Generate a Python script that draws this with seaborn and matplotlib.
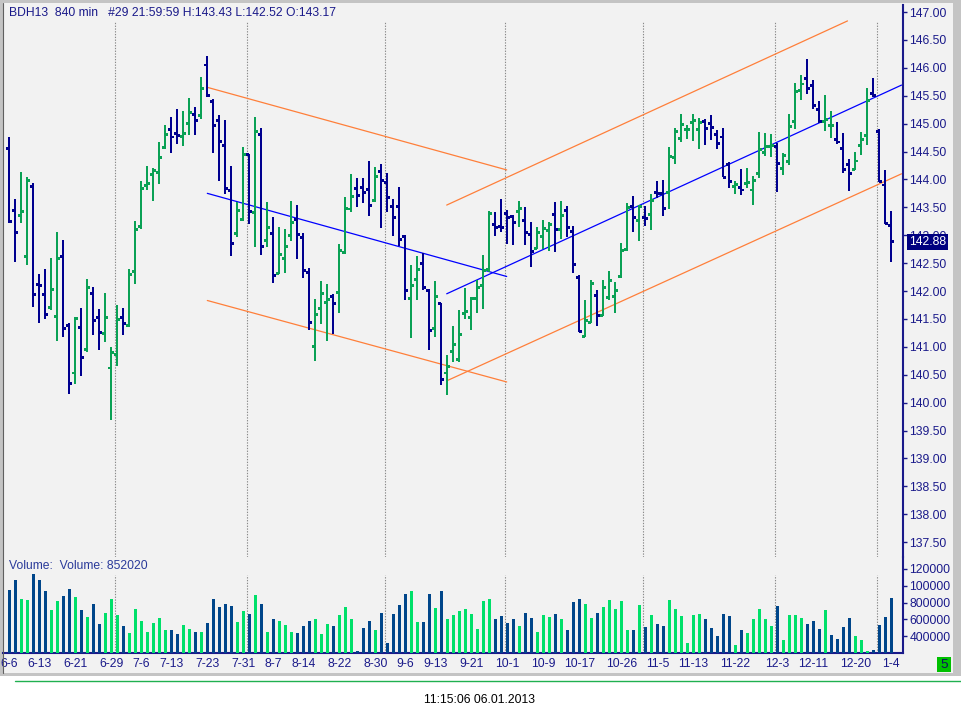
import numpy as np
import pandas as pd
import matplotlib
matplotlib.use("Agg")
import matplotlib.pyplot as plt
import matplotlib.transforms as mtransforms
from matplotlib.patches import Rectangle
from matplotlib.lines import Line2D
import seaborn as sns

# ---------------- data ----------------
highs = [144.76,143.65,144.13,144.04,143.94,142.31,142.40,142.60,143.06,142.91,
         141.43,141.53,141.70,142.22,142.07,141.68,141.97,140.99,141.75,141.70,
         142.40,143.25,143.97,144.24,144.20,144.67,144.98,145.12,145.26,145.23,
         145.45,145.30,145.84,146.21,145.44,145.16,145.06,144.24,143.60,144.58,
         144.45,145.12,144.92,143.60,143.33,143.15,143.11,143.61,143.54,143.04,
         142.41,141.86,142.18,142.12,141.94,142.84,143.69,144.10,144.03,144.03,
         144.33,144.22,144.28,144.12,143.65,143.87,143.00,142.47,142.63,142.68,
         142.04,142.18,141.79,140.85,141.37,141.66,142.05,141.90,142.20,142.64,
         143.43,143.42,143.65,143.45,143.37,143.61,143.51,143.23,143.15,143.27,
         143.24,143.60,143.61,143.52,143.16,142.28,141.83,142.19,142.01,142.20,
         142.36,142.16,142.86,143.57,143.70,143.55,143.52,143.73,143.97,143.99,
         144.58,144.93,145.17,144.97,145.17,145.10,145.08,145.15,144.88,144.92,
         144.32,143.97,144.19,144.21,144.06,144.85,144.84,144.81,144.66,144.47,
         145.17,145.73,145.87,146.16,145.79,145.41,145.51,145.23,145.02,144.84,
         144.36,144.49,144.85,145.63,145.82,144.91,144.17,143.43]
lows = [143.21,142.52,143.22,142.46,141.72,141.42,141.50,141.66,141.11,141.17,
        140.15,140.33,140.48,140.91,141.21,140.95,141.08,139.69,140.65,141.21,
        141.35,142.12,143.11,143.81,143.62,143.91,144.54,144.48,144.64,144.59,
        144.79,144.79,145.09,145.48,144.48,143.98,143.73,142.62,142.96,143.26,
        143.20,142.79,142.65,142.78,142.14,142.30,142.33,142.90,142.58,142.24,
        141.31,140.75,141.41,141.11,141.23,141.60,142.67,143.41,143.51,143.58,
        143.35,143.60,143.13,143.42,142.99,142.80,141.83,141.15,141.84,142.02,
        140.95,141.18,140.31,140.13,140.72,140.73,141.49,141.30,141.60,141.67,
        142.34,142.99,143.06,142.84,142.82,143.15,142.83,142.43,142.75,142.76,
        142.72,142.69,142.93,142.96,142.33,141.26,141.17,141.42,141.38,141.55,
        141.84,141.60,142.23,142.72,143.06,142.89,143.17,143.10,143.67,143.35,
        143.47,144.28,144.67,144.73,144.68,144.54,144.61,144.70,144.55,144.04,
        143.84,143.73,143.72,143.85,143.55,144.03,144.42,144.41,143.77,144.07,
        144.25,144.91,145.42,145.53,145.26,145.01,144.86,144.74,144.64,144.12,
        143.80,144.16,144.44,144.62,145.47,143.96,143.20,142.52]
opens = [144.56,143.45,143.35,142.62,143.88,142.12,141.94,141.71,141.55,142.61,
         141.38,140.53,141.35,140.95,141.96,141.53,141.24,140.62,140.87,141.53,
         141.38,142.35,143.16,143.89,144.09,144.13,144.58,144.90,144.83,144.77,
         145.01,145.17,145.15,146.05,145.40,145.06,144.61,143.80,143.03,143.28,
         144.45,143.41,144.81,142.91,143.03,142.32,142.59,143.00,143.28,142.96,
         142.34,141.01,141.69,141.80,141.90,141.98,142.69,143.47,143.84,143.86,
         143.82,143.63,144.15,143.95,143.52,143.52,142.98,141.87,142.21,142.50,
         142.01,141.33,141.78,140.53,140.92,140.77,141.60,141.52,141.87,142.10,
         142.39,143.19,143.16,143.39,143.34,143.43,143.27,143.02,142.77,142.98,
         143.09,143.37,143.10,143.45,143.07,142.25,141.19,141.44,141.92,141.56,
         141.89,141.90,142.26,142.75,143.52,143.27,143.32,143.37,143.77,143.75,
         143.77,144.40,144.74,144.90,145.02,144.90,145.03,145.01,144.81,144.76,
         144.27,143.88,143.85,143.93,143.81,144.10,144.49,144.59,144.59,144.19,
         144.32,145.03,145.59,145.80,145.69,145.25,145.03,144.97,144.71,144.56,
         144.27,144.18,144.60,144.78,145.54,144.86,143.90,143.17]
closes = [143.25,143.05,143.43,143.98,141.94,142.10,141.58,142.03,142.59,141.33,
          140.35,141.51,140.81,142.07,141.47,141.26,141.53,140.89,141.49,141.41,
          142.30,143.10,143.84,143.93,144.16,144.40,144.81,144.76,144.79,144.83,
          145.20,145.06,145.63,145.51,144.97,144.68,143.84,142.85,143.45,144.45,
          143.43,144.85,142.80,143.14,142.28,142.66,142.80,143.23,143.02,142.37,
          141.44,141.58,141.96,141.85,141.78,142.73,143.48,143.70,143.71,143.77,
          143.54,144.05,143.98,143.68,143.32,142.93,142.01,142.10,142.39,142.07,
          141.30,141.90,140.42,140.64,141.04,141.22,141.64,141.86,142.06,142.37,
          143.39,143.14,143.14,143.32,143.23,143.48,143.05,142.71,143.05,143.12,
          143.19,143.10,143.36,143.14,142.48,141.28,141.47,142.14,141.56,142.07,
          142.19,142.01,142.73,143.50,143.32,143.51,143.30,143.62,143.75,143.48,
          144.41,144.85,144.99,144.90,145.06,145.02,144.92,144.93,144.65,144.04,
          143.97,143.91,143.81,143.95,143.98,144.53,144.59,144.60,144.28,144.42,
          144.95,145.57,145.71,145.63,145.33,145.03,145.08,144.97,144.67,144.18,
          144.10,144.33,144.72,145.42,145.50,143.97,143.21,142.88]
volumes = [950000,1069000,844000,832000,1140000,1069000,939000,713000,820000,879000,
           962000,867000,713000,630000,784000,547000,677000,844000,653000,523000,
           440000,725000,582000,451000,558000,618000,475000,475000,428000,535000,
           487000,451000,451000,558000,844000,748000,784000,760000,570000,701000,
           665000,891000,784000,451000,606000,582000,535000,451000,440000,523000,
           582000,606000,428000,547000,523000,653000,748000,606000,226000,499000,
           582000,475000,677000,321000,665000,772000,903000,939000,570000,570000,
           903000,737000,939000,606000,653000,701000,725000,665000,487000,820000,
           844000,606000,642000,558000,606000,523000,677000,618000,451000,653000,
           630000,665000,606000,475000,808000,844000,784000,618000,677000,748000,
           832000,725000,820000,475000,475000,772000,511000,653000,547000,523000,
           832000,725000,642000,321000,653000,665000,606000,499000,404000,665000,
           642000,297000,475000,440000,606000,725000,606000,523000,760000,356000,
           653000,653000,618000,547000,582000,487000,713000,416000,368000,511000,
           618000,404000,356000,226000,238000,535000,630000,852020]
vol_color_flip = [137]  # volume bar drawn down-coloured although the price bar is up

tick_idx = [0, 5, 11, 17, 22, 27, 33, 39, 44, 49, 55, 61, 66, 71, 77,
            83, 89, 95, 102, 108, 114, 121, 128, 134, 141, 147]
tick_labels = ['6-6', '6-13', '6-21', '6-29', '7-6', '7-13', '7-23', '7-31', '8-7',
               '8-14', '8-22', '8-30', '9-6', '9-13', '9-21', '10-1', '10-9', '10-17',
               '10-26', '11-5', '11-13', '11-22', '12-3', '12-11', '12-20', '1-4']
month_breaks = [17.67, 39.67, 62.67, 82.67, 105.67, 127.67, 144.67]

price_ticks = [137.5 + 0.5 * i for i in range(20)]
vol_ticks = [400000, 600000, 800000, 1000000, 1200000]
vol_tick_labels = ['400000', '600000', '800000', '100000', '120000']

# trend lines: (bar index, price) endpoints
orange_lines = [((33, 145.65), (82.9, 144.17)),
                ((33, 141.83), (82.9, 140.37)),
                ((72.9, 143.54), (139.7, 146.84)),
                ((72.9, 140.39), (148.7, 144.10))]
blue_lines = [((33, 143.75), (82.9, 142.26)),
              ((72.9, 141.95), (148.7, 145.69))]

title = "BDH13  840 min   #29 21:59:59 H:143.43 L:142.52 O:143.17"
vol_title = "Volume:  Volume: 852020"
last_price = 142.88
timestamp = "11:15:06 06.01.2013"

# ---------------- style ----------------
sns.set_style("white")
plt.rcParams['font.family'] = ['Liberation Sans', 'DejaVu Sans']

NAVY = '#1a1a8a'
P_BLUE = '#00008f'
P_GREEN = '#0aa155'
V_BLUE = '#00468a'
V_GREEN = '#00e06a'
ORANGE = '#ff7f3a'
TL_BLUE = '#0000ff'
FS = 8.7

W, H = 961, 717
fig = plt.figure(figsize=(W / 100, H / 100), dpi=100, facecolor='white')

def fy(y):
    return 1 - y / H

def fx(x):
    return x / W

# window frame
fig.patches.append(Rectangle((0, fy(676)), 1, 676 / H, transform=fig.transFigure,
                             facecolor='#c4c4c4', edgecolor='none', zorder=-10))
fig.patches.append(Rectangle((fx(3), fy(673)), 950 / W, 670 / H, transform=fig.transFigure,
                             facecolor='#f2f2f2', edgecolor='none', zorder=-9))
fig.lines.append(Line2D([fx(2.5), fx(2.5)], [fy(3), fy(673)], transform=fig.transFigure,
                        color='#606060', lw=0.8))
fig.lines.append(Line2D([fx(15), 1], [fy(680.5), fy(680.5)], transform=fig.transFigure,
                        color='#20b050', lw=1.0))

XL = (-1.05, 148.95)
ax = fig.add_axes([fx(3), fy(557), 900 / W, 552 / H])
axv = fig.add_axes([fx(3), fy(652.5), 900 / W, 95.5 / H])
for a in (ax, axv):
    a.set_facecolor('none')
    a.set_xlim(*XL)

n = len(closes)
df = pd.DataFrame(dict(idx=np.arange(n), open=opens, high=highs, low=lows, close=closes))
df['dir'] = np.where(df['close'] >= df['open'], 'up', 'down')
vdir = df['dir'].copy()
for k in vol_color_flip:
    vdir[k] = 'down' if vdir[k] == 'up' else 'up'
vdf = pd.DataFrame(dict(idx=np.arange(n), vol=volumes, dir=vdir))

# ---------------- price panel ----------------
for mb in month_breaks:
    ax.axvline(mb, ymin=0, ymax=(557 - 21) / 552, color='#8a8a8a', lw=0.8,
               ls=(0, (1.2, 1.3)), zorder=1)

pal = {'up': P_GREEN, 'down': P_BLUE}
ax.vlines(df['idx'], df['low'], df['high'], colors=df['dir'].map(pal), lw=1.2,
          zorder=3, antialiased=False)
sns.scatterplot(x=df['idx'] - 0.27, y=df['open'], hue=df['dir'], palette=pal, marker='s',
                s=4.5, linewidth=0, legend=False, ax=ax, zorder=4, antialiased=False)
sns.scatterplot(x=df['idx'] + 0.27, y=df['close'], hue=df['dir'], palette=pal, marker='s',
                s=4.5, linewidth=0, legend=False, ax=ax, zorder=4, antialiased=False)

for (x0, y0), (x1, y1) in orange_lines:
    ax.plot([x0, x1], [y0, y1], color=ORANGE, lw=0.9, zorder=2)
for (x0, y0), (x1, y1) in blue_lines:
    ax.plot([x0, x1], [y0, y1], color=TL_BLUE, lw=0.9, zorder=2)

ax.set_xlim(*XL)
ax.set_ylim(147 - 545 / 55.8, 147 + 7 / 55.8)
ax.set_xticks([])
ax.set_xlabel('')
ax.set_ylabel('')
ax.yaxis.tick_right()
ax.set_yticks(price_ticks)
ax.set_yticklabels([f"{v:.2f}" for v in price_ticks])
ax.tick_params(axis='y', direction='out', length=3, width=1, color=NAVY,
               labelcolor=NAVY, labelsize=FS, pad=1.5)
for s in ('left', 'top', 'bottom'):
    ax.spines[s].set_visible(False)
ax.spines['right'].set_color(NAVY)
ax.spines['right'].set_linewidth(1.5)

trans = mtransforms.blended_transform_factory(ax.transAxes, ax.transData)
ax.text(1 + 6 / 900, last_price, f"{last_price:.2f}", transform=trans, ha='left',
        va='center', color='white', fontsize=FS, zorder=10,
        bbox=dict(boxstyle='square,pad=0.18', fc='#000080', ec='none'))

# ---------------- volume panel ----------------
vmin = 400000 - 16.2 * 11881
vmax = 400000 + 79.3 * 11881
for mb in month_breaks:
    axv.axvline(mb, ymin=0, ymax=(652.5 - 575) / 95.5, color='#8a8a8a', lw=0.8,
                ls=(0, (1.2, 1.3)), zorder=1)
sns.barplot(data=vdf, x='idx', y='vol', hue='dir', palette={'up': V_GREEN, 'down': V_BLUE},
            native_scale=True, dodge=False, width=0.55, saturation=1, errorbar=None,
            legend=False, ax=axv, linewidth=0, zorder=3)
axv.set_xlim(*XL)
axv.set_ylim(vmin, vmax)
axv.set_xlabel('')
axv.set_ylabel('')
axv.yaxis.tick_right()
axv.set_yticks(vol_ticks)
axv.set_yticklabels(vol_tick_labels)
axv.tick_params(axis='y', direction='out', length=3, width=1, color=NAVY,
                labelcolor=NAVY, labelsize=FS, pad=1.5)
axv.set_xticks(tick_idx)
axv.set_xticklabels(tick_labels)
axv.tick_params(axis='x', direction='out', length=3, width=1.2, color=NAVY,
                labelcolor=NAVY, labelsize=FS, pad=1)
for s in ('left', 'top'):
    axv.spines[s].set_visible(False)
for s in ('right', 'bottom'):
    axv.spines[s].set_color(NAVY)
    axv.spines[s].set_linewidth(1.5)

# ---------------- texts ----------------
fig.text(fx(9), fy(13), title, fontsize=FS, color=NAVY, ha='left', va='center')
fig.text(fx(9), fy(566), vol_title, fontsize=FS, color='#2a3a9a', ha='left', va='center')
fig.patches.append(Rectangle((fx(937), fy(672)), 14 / W, 15 / H, transform=fig.transFigure,
                             facecolor='#00c000', edgecolor='none'))
fig.text(fx(944), fy(664.5), "5", fontsize=FS + 1, color='#101060', ha='center', va='center')
fig.text(fx(480), fy(700), timestamp, fontsize=FS, color='black', ha='center', va='center')

fig.savefig('out.png', dpi=100, facecolor='white')
